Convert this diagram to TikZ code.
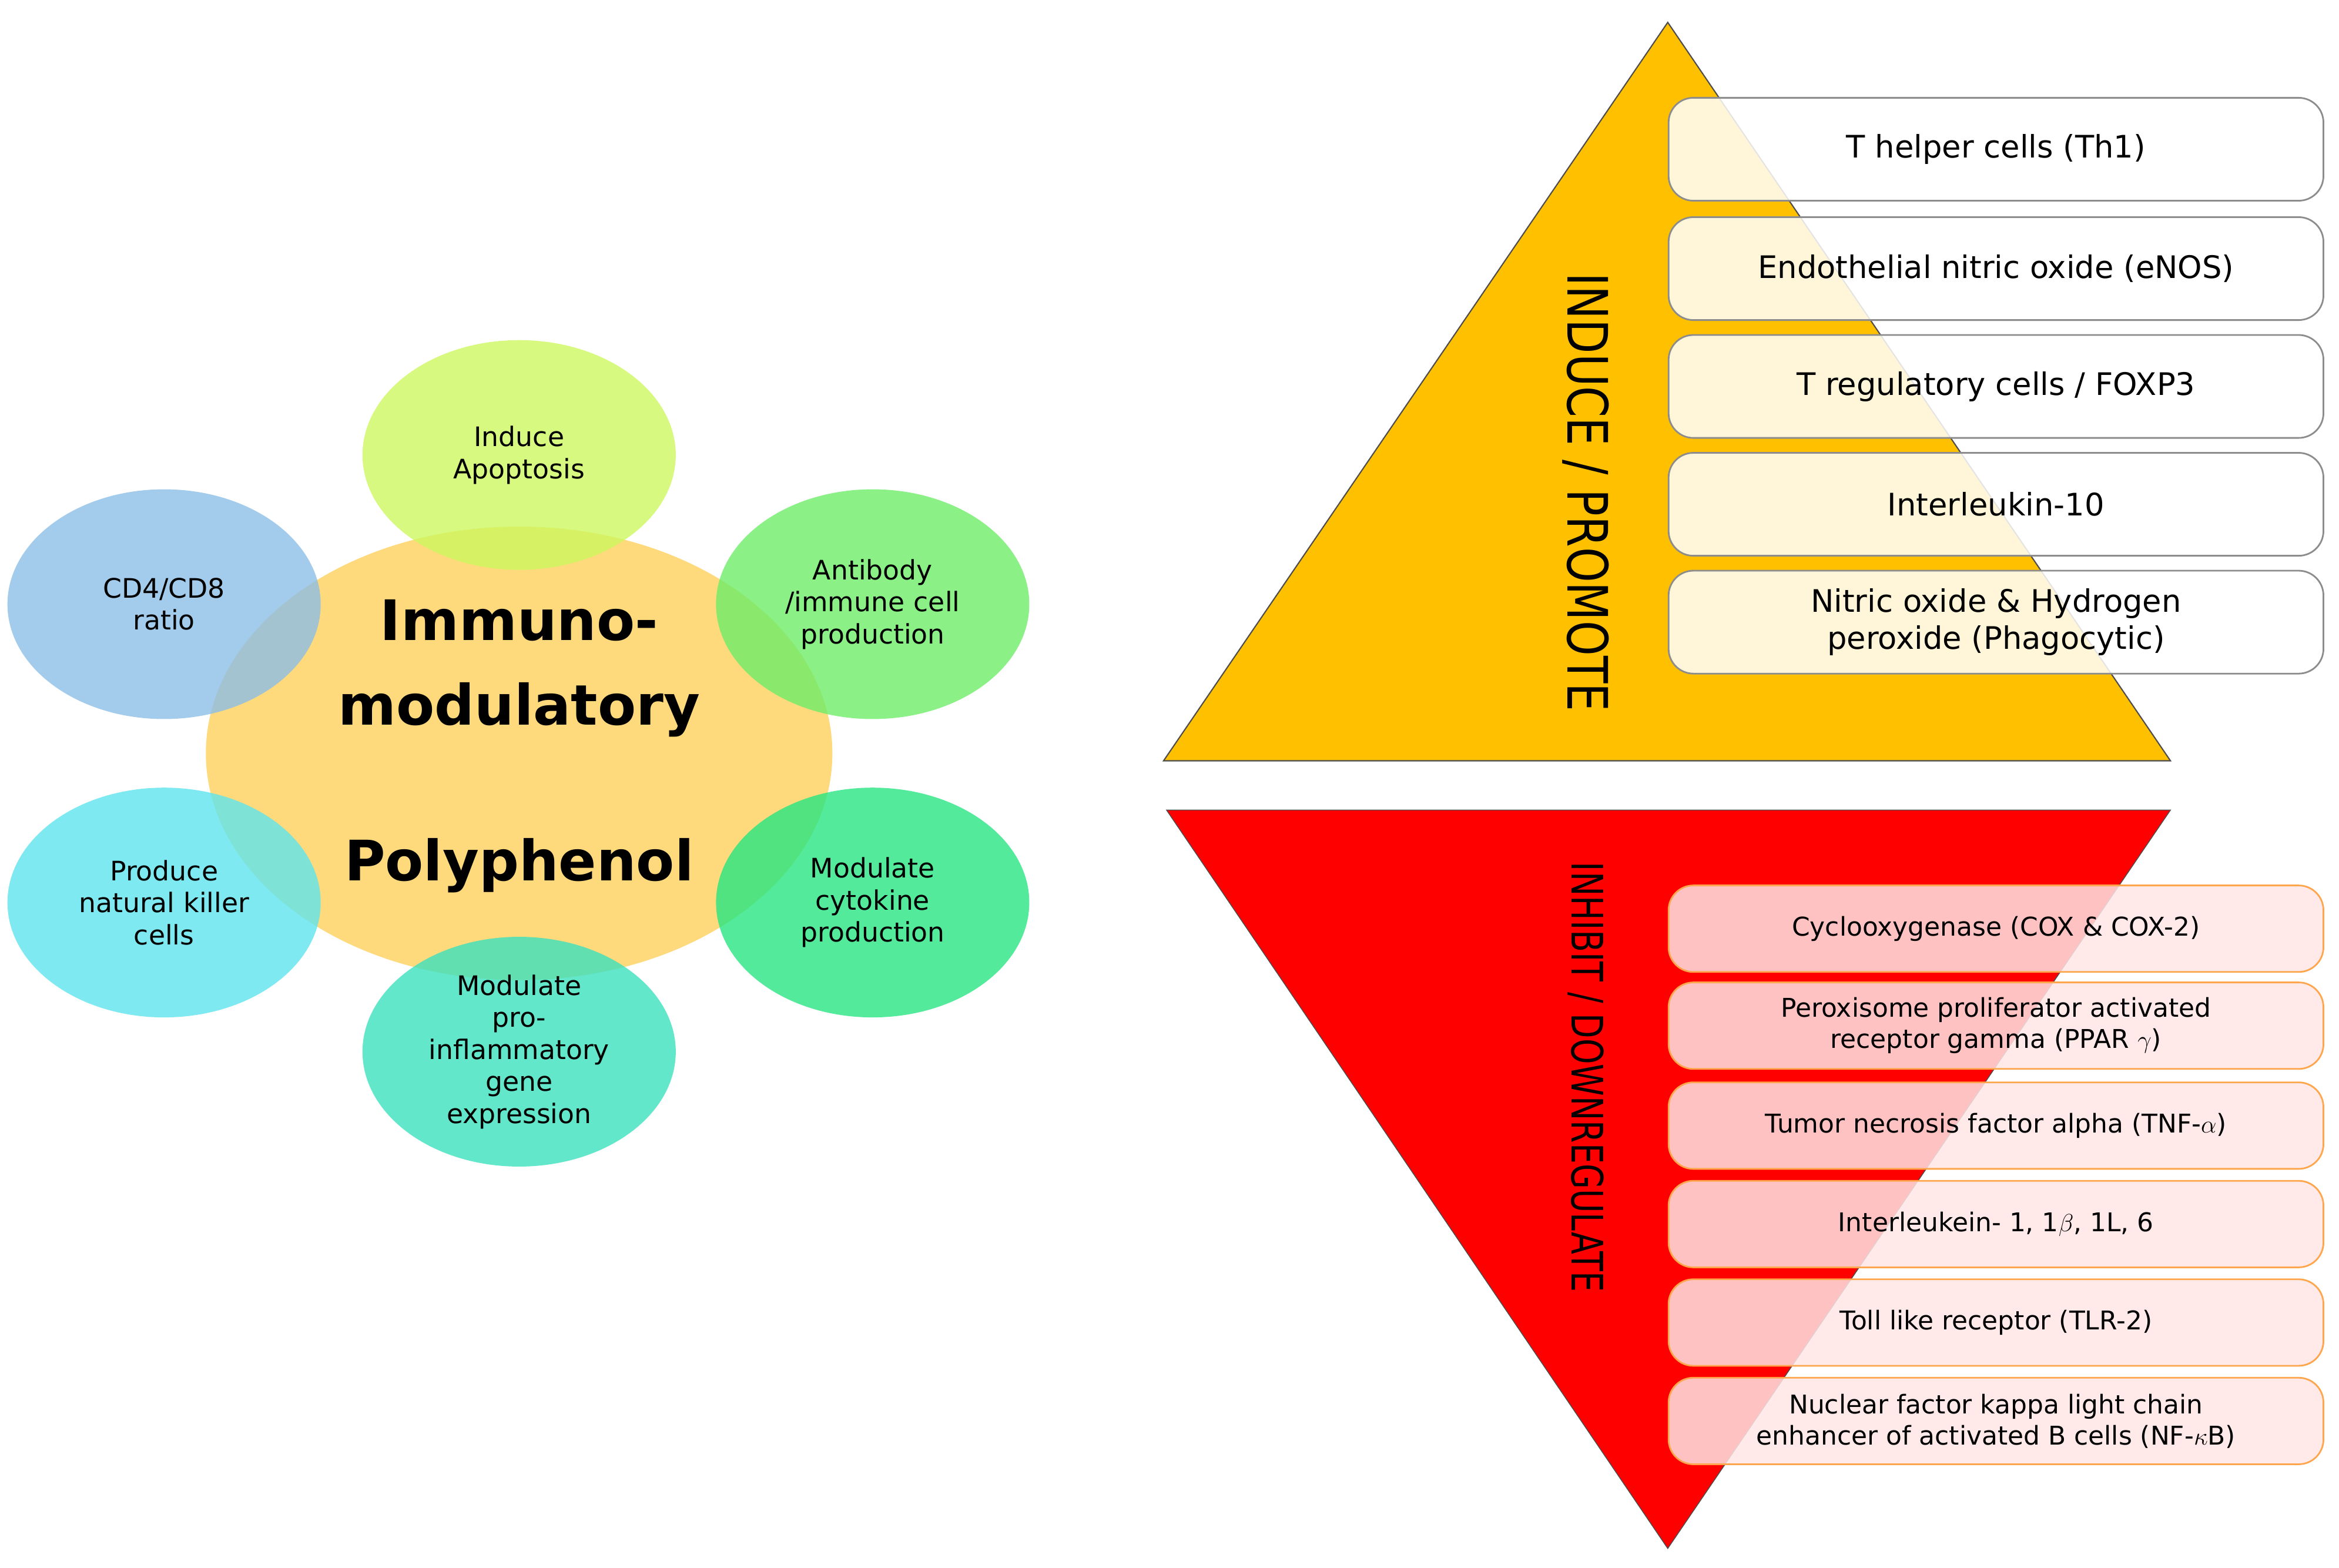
\documentclass[tikz,border=0pt]{standalone}
\usepackage{fontspec}
\setmainfont{DejaVu Sans}
\begin{document}
\begin{tikzpicture}[x=0.02538cm,y=-0.02538cm,
 sm/.style={draw=none,fill opacity=0.8,text opacity=1},
 ct/.style={font=\fontsize{13}{15.5}\selectfont,align=center,text width=4cm},
 ub/.style={draw=black!45,line width=0.8pt,rounded corners=12pt,fill=white,fill opacity=0.85,text opacity=1,minimum width=439*0.02538cm,minimum height=69*0.02538cm,anchor=north west,font=\fontsize{15}{18}\selectfont,align=center},
 lb/.style={draw=orange!70,line width=0.8pt,rounded corners=12pt,fill=red!10,fill opacity=0.85,text opacity=1,minimum width=439*0.02538cm,minimum height=58*0.02538cm,anchor=north west,font=\fontsize{12.5}{15}\selectfont,align=center}]
\useasboundingbox (0,0) rectangle (1568,1051);
% left
\fill[color={rgb,255:red,255;green,205;blue,80},fill opacity=0.75] (348,505) ellipse [x radius=210,y radius=152];
\fill[sm,color={rgb,255:red,205;green,248;blue,95}] (348,305) ellipse [x radius=105,y radius=77];
\fill[sm,color={rgb,255:red,140;green,190;blue,230}] (110,405) ellipse [x radius=105,y radius=77];
\fill[sm,color={rgb,255:red,110;green,238;blue,105}] (585,405) ellipse [x radius=105,y radius=77];
\fill[sm,color={rgb,255:red,95;green,228;blue,238}] (110,605) ellipse [x radius=105,y radius=77];
\fill[sm,color={rgb,255:red,40;green,230;blue,130}] (585,605) ellipse [x radius=105,y radius=77];
\fill[sm,color={rgb,255:red,60;green,225;blue,190}] (348,705) ellipse [x radius=105,y radius=77];
\node[ct] (ap) at (348,305) {Induce\\Apoptosis};
\node[ct] (cd) at (110,405) {CD4/CD8\\ratio};
\node[ct] (ab) at (585,405) {Antibody\\/immune cell\\production};
\node[ct] (nk) at (110,605) {Produce\\natural killer\\cells};
\node[ct] (cy) at (585,605) {Modulate\\cytokine\\production};
\node[ct] (pi) at (348,705) {Modulate\\pro-\\inflammatory\\gene\\expression};
\node[font=\bfseries\fontsize{27}{41}\selectfont,align=center] (im) at (348,448) {Immuno-\\modulatory};
\node[font=\bfseries\fontsize{27}{32}\selectfont] (po) at (348,580) {Polyphenol};
% right upper
\draw[black!70,line width=0.6pt,fill={rgb,255:red,255;green,192;blue,0}] (1118,15) -- (1455,510) -- (780,510) -- cycle;
\draw[black!70,line width=0.4pt,fill=red] (782,543) -- (1455,543) -- (1118,1038) -- cycle;
\node[ub] (u1) at (1118,65) {T helper cells (Th1)};
\node[ub] (u2) at (1118,145) {Endothelial nitric oxide (eNOS)};
\node[ub] (u3) at (1118,224) {T regulatory cells / FOXP3};
\node[ub] (u4) at (1118,303) {Interleukin-10};
\node[ub] (u5) at (1118,382) {Nitric oxide \& Hydrogen\\peroxide (Phagocytic)};
\node[lb] (l1) at (1118,593) {Cyclooxygenase (COX \& COX-2)};
\node[lb] (l2) at (1118,658) {Peroxisome proliferator activated\\receptor gamma (PPAR $\gamma$)};
\node[lb] (l3) at (1118,725) {Tumor necrosis factor alpha (TNF-$\alpha$)};
\node[lb] (l4) at (1118,791) {Interleukein- 1, 1$\beta$, 1L, 6};
\node[lb] (l5) at (1118,857) {Toll like receptor (TLR-2)};
\node[lb] (l6) at (1118,923) {Nuclear factor kappa light chain\\enhancer of activated B cells (NF-$\kappa$B)};
\node[rotate=-90,xscale=0.8,font=\fontsize{27}{30}\selectfont] (ip) at (1063,330) {INDUCE / PROMOTE};
\node[rotate=-90,xscale=0.75,font=\fontsize{21}{24}\selectfont] (id) at (1063,722) {INHIBIT / DOWNREGULATE};
\end{tikzpicture}
\end{document}
